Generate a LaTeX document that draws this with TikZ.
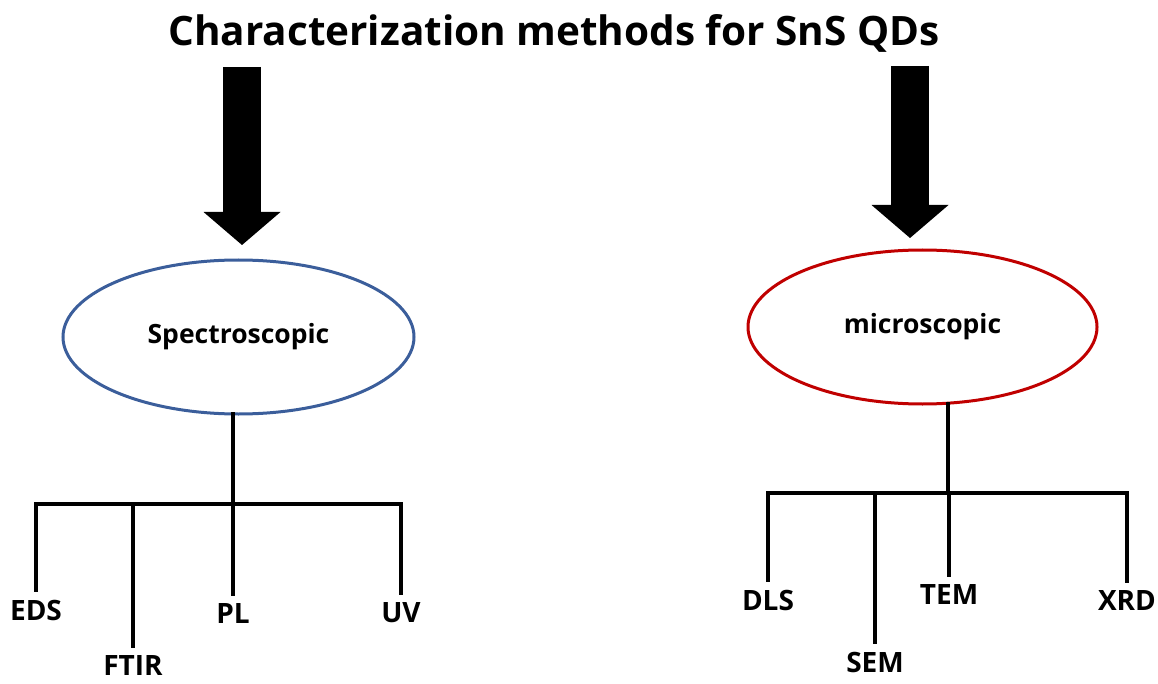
\documentclass[tikz,border=0pt]{standalone}
\usepackage{fontspec}
\setmainfont{Open Sans}
\usetikzlibrary{shapes.geometric,arrows.meta}
\definecolor{specblue}{HTML}{3B5E9B}
\definecolor{microred}{HTML}{C00000}
\tikzset{
  headline/.style={font=\bfseries\fontsize{40.5}{42}\selectfont, inner sep=0pt},
  group/.style={ellipse, line width=3pt, outer sep=0pt, minimum height=154pt,
    font=\bfseries\fontsize{26.5}{28}\selectfont},
  method/.style={font=\bfseries\fontsize{28}{30}\selectfont, inner sep=0pt, outer sep=0pt},
  branch/.style={line width=4pt, line cap=rect},
  bigarrow/.style={line width=38.5pt, -{Triangle[length=33pt, width=77pt, line width'=0pt]}},
}
\begin{document}
\begin{tikzpicture}[x=1pt, y=-1pt]
	\useasboundingbox (0,0) rectangle (1158,684);
	
	\node[headline, anchor=base] (title) at (554,46) {Characterization methods for SnS QDs};
	
	\node[group, draw=specblue, minimum width=351pt] (spec) at (238.5,337) {Spectroscopic};
	\node[group, draw=microred, minimum width=349pt] (micro) at (922.5,327) {microscopic};
	
	% the two big arrows
	\coordinate (aL) at (242,67);
	\coordinate (aR) at (910,66);
	\draw[bigarrow, shorten >=15pt] (aL) -- (aL |- spec.north);
	\draw[bigarrow, shorten >=12pt] (aR) -- (aR |- micro.north);
	
	% spectroscopic branch
	\coordinate (barL) at (233,504);
	\node[method] (eds) at (36,610) {EDS};
	\node[method] (ftir) at (133,666) {FTIR};
	\node[method] (pl) at (233,614) {PL};
	\node[method] (uv) at (401,613) {UV};
	
	\draw[branch] (spec.south -| barL) -- (barL);
	\draw[branch] (eds.north |- barL) -- (uv.north |- barL);
	\foreach \m in {eds,ftir,pl,uv}
		\draw[branch, shorten >=10pt] (\m.north |- barL) -- (\m.north);
	
	% microscopic branch
	\coordinate (barR) at (948,493);
	\node[method] (dls) at (768,600) {DLS};
	\node[method] (sem) at (875,662) {SEM};
	\node[method] (tem) at (949,595) {TEM};
	\node[method] (xrd) at (1127,601) {XRD};
	
	\draw[branch] (micro.south -| barR) -- (barR);
	\draw[branch] (dls.north |- barR) -- (xrd.north |- barR);
	\foreach \m in {dls,sem,tem,xrd}
		\draw[branch, shorten >=10pt] (\m.north |- barR) -- (\m.north);
\end{tikzpicture}
\end{document}
